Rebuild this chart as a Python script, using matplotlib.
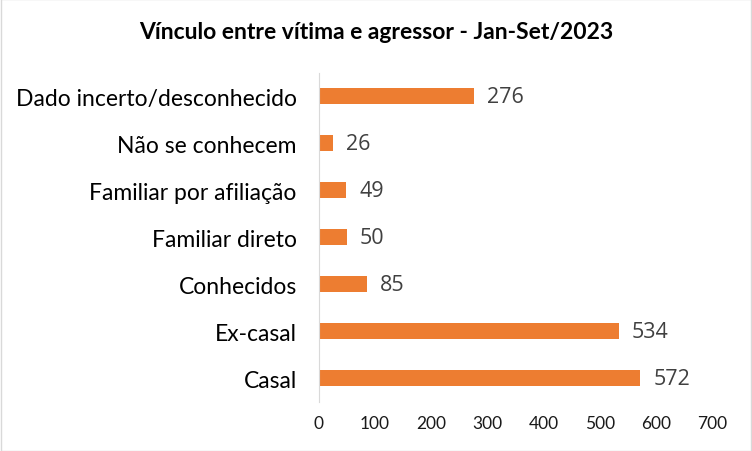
import matplotlib.pyplot as plt
import numpy as np

plt.rcParams['font.family'] = ['Lato', 'DejaVu Sans']

categories = ['Casal', 'Ex-casal', 'Conhecidos', 'Familiar direto',
              'Familiar por afiliação', 'Não se conhecem', 'Dado incerto/desconhecido']
values = [572, 534, 85, 50, 49, 26, 276]
x_ticks = [0, 100, 200, 300, 400, 500, 600, 700]

fig = plt.figure(figsize=(7.52, 4.52), dpi=100)
ax = fig.add_axes([0.424, 0.1095, 0.523, 0.727])

y = np.arange(len(categories))
bars = ax.barh(y, values, height=0.34, color='#ED7D31')

for bar, v in zip(bars, values):
    ax.text(bar.get_width() + 23, bar.get_y() + bar.get_height() / 2, str(v),
            va='center', ha='left', fontsize=15.5, color='#404040', family=['Open Sans', 'DejaVu Sans'])

ax.set_xlim(0, 700)
ax.set_ylim(-0.5, len(categories) - 0.5)
ax.set_xticks(x_ticks)
ax.set_xticklabels([str(t) for t in x_ticks], fontsize=12.5, color='#1a1a1a')
ax.set_yticks(y)
ax.set_yticklabels(categories, fontsize=16.5, color='#000000')
ax.tick_params(axis='both', length=0)
ax.tick_params(axis='x', pad=10)
ax.tick_params(axis='y', pad=16)

for side in ['top', 'right', 'bottom']:
    ax.spines[side].set_visible(False)
ax.spines['left'].set_color('#D9D9D9')

fig.text(0.5, 0.927, 'Vínculo entre vítima e agressor - Jan-Set/2023',
         ha='center', va='center', fontsize=16.5, fontweight='bold', color='#000000')

fig.patches.append(plt.Rectangle((0.001, 0.001), 0.998, 0.998, transform=fig.transFigure,
                                 fill=False, edgecolor='#D9D9D9', linewidth=1))

fig.savefig('out.png', dpi=100)
